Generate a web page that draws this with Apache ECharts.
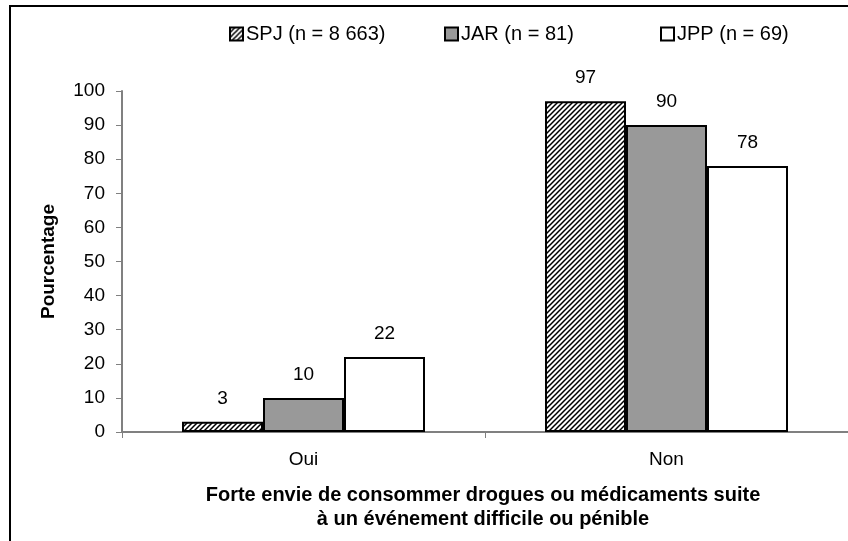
<!DOCTYPE html>
<html>
<head>
<meta charset="utf-8">
<script src="https://cdn.jsdelivr.net/npm/echarts@6/dist/echarts.min.js"></script>
<style>
  html, body { margin: 0; padding: 0; background: #fff; }
  #chart { width: 848px; height: 541px; }
</style>
</head>
<body>
<div id="chart"></div>
<script>
const categories = ['Oui', 'Non']
const seriesNames = ['SPJ (n = 8 663)', 'JAR (n = 81)', 'JPP (n = 69)']
const spj = [3, 97]
const jar = [10, 90]
const jpp = [22, 78]

// hatch fill like the old excel pattern
function hatch() {
  const c = document.createElement('canvas')
  c.width = 5; c.height = 5
  const ctx = c.getContext('2d')
  ctx.fillStyle = '#fff'
  ctx.fillRect(0, 0, 5, 5)
  ctx.strokeStyle = '#000'
  ctx.lineWidth = 1.5
  ctx.beginPath()
  ctx.moveTo(-1, 6); ctx.lineTo(6, -1)
  ctx.moveTo(-4, 4); ctx.lineTo(4, -4)
  ctx.moveTo(1, 9); ctx.lineTo(9, 1)
  ctx.stroke()
  return c
}

const font = 'Liberation Sans, Arial, sans-serif'
const chart = echarts.init(document.getElementById('chart'))

const barStyle = (fill) => ({
  color: fill,
  borderColor: '#000',
  borderWidth: 2
})
const lbl = {
  show: true,
  position: 'top',
  distance: 14,
  color: '#000',
  fontSize: 19,
  fontFamily: font
}
const legendAt = (name, left) => ({
  data: [name],
  top: 19,
  left: left,
  itemWidth: 13,
  itemHeight: 13,
  itemGap: 0,
  icon: 'rect',
  textStyle: { fontSize: 20, color: '#000', fontFamily: font, padding: [0, 0, 0, -2] }
})

chart.setOption({
  animation: false,
  backgroundColor: '#fff',
  textStyle: { fontFamily: font },
  graphic: [{
    type: 'rect',
    shape: { x: 10, y: 6, width: 900, height: 600 },
    style: { fill: 'none', stroke: '#000', lineWidth: 2 },
    silent: true
  }, {
    type: 'text',
    x: 483,
    y: 483,
    style: {
      text: 'Forte envie de consommer drogues ou médicaments suite\nà un événement difficile ou pénible',
      fontFamily: font,
      fontSize: 20,
      fontWeight: 'bold',
      fill: '#000',
      align: 'center',
      lineHeight: 24
    }
  }],
  legend: [
    legendAt(seriesNames[0], 224),
    legendAt(seriesNames[1], 439),
    legendAt(seriesNames[2], 655)
  ],
  grid: { left: 122, right: -4, top: 91, bottom: 109 },
  xAxis: {
    type: 'category',
    data: categories,
    axisLine: { lineStyle: { color: '#808080', width: 2 } },
    axisTick: { show: true, length: 6, lineStyle: { color: '#808080' } },
    axisLabel: { color: '#000', fontSize: 19, margin: 18 }
  },
  yAxis: {
    type: 'value',
    min: 0,
    max: 100,
    interval: 10,
    name: 'Pourcentage',
    nameLocation: 'middle',
    nameGap: 64,
    nameTextStyle: { fontSize: 19, fontWeight: 'bold', color: '#000' },
    axisLine: { show: true, lineStyle: { color: '#808080', width: 2 } },
    axisTick: { show: true, length: 6, lineStyle: { color: '#808080' } },
    axisLabel: { color: '#000', fontSize: 19, margin: 17 },
    splitLine: { show: false }
  },
  series: [
    { name: seriesNames[0], type: 'bar', data: spj, barWidth: 81, barGap: '0%',
      itemStyle: barStyle({ image: hatch(), repeat: 'repeat' }), label: lbl },
    { name: seriesNames[1], type: 'bar', data: jar, barWidth: 81, barGap: '0%',
      itemStyle: barStyle('#999999'), label: lbl },
    { name: seriesNames[2], type: 'bar', data: jpp, barWidth: 81, barGap: '0%',
      itemStyle: barStyle('#ffffff'), label: lbl }
  ]
})
</script>
</body>
</html>
